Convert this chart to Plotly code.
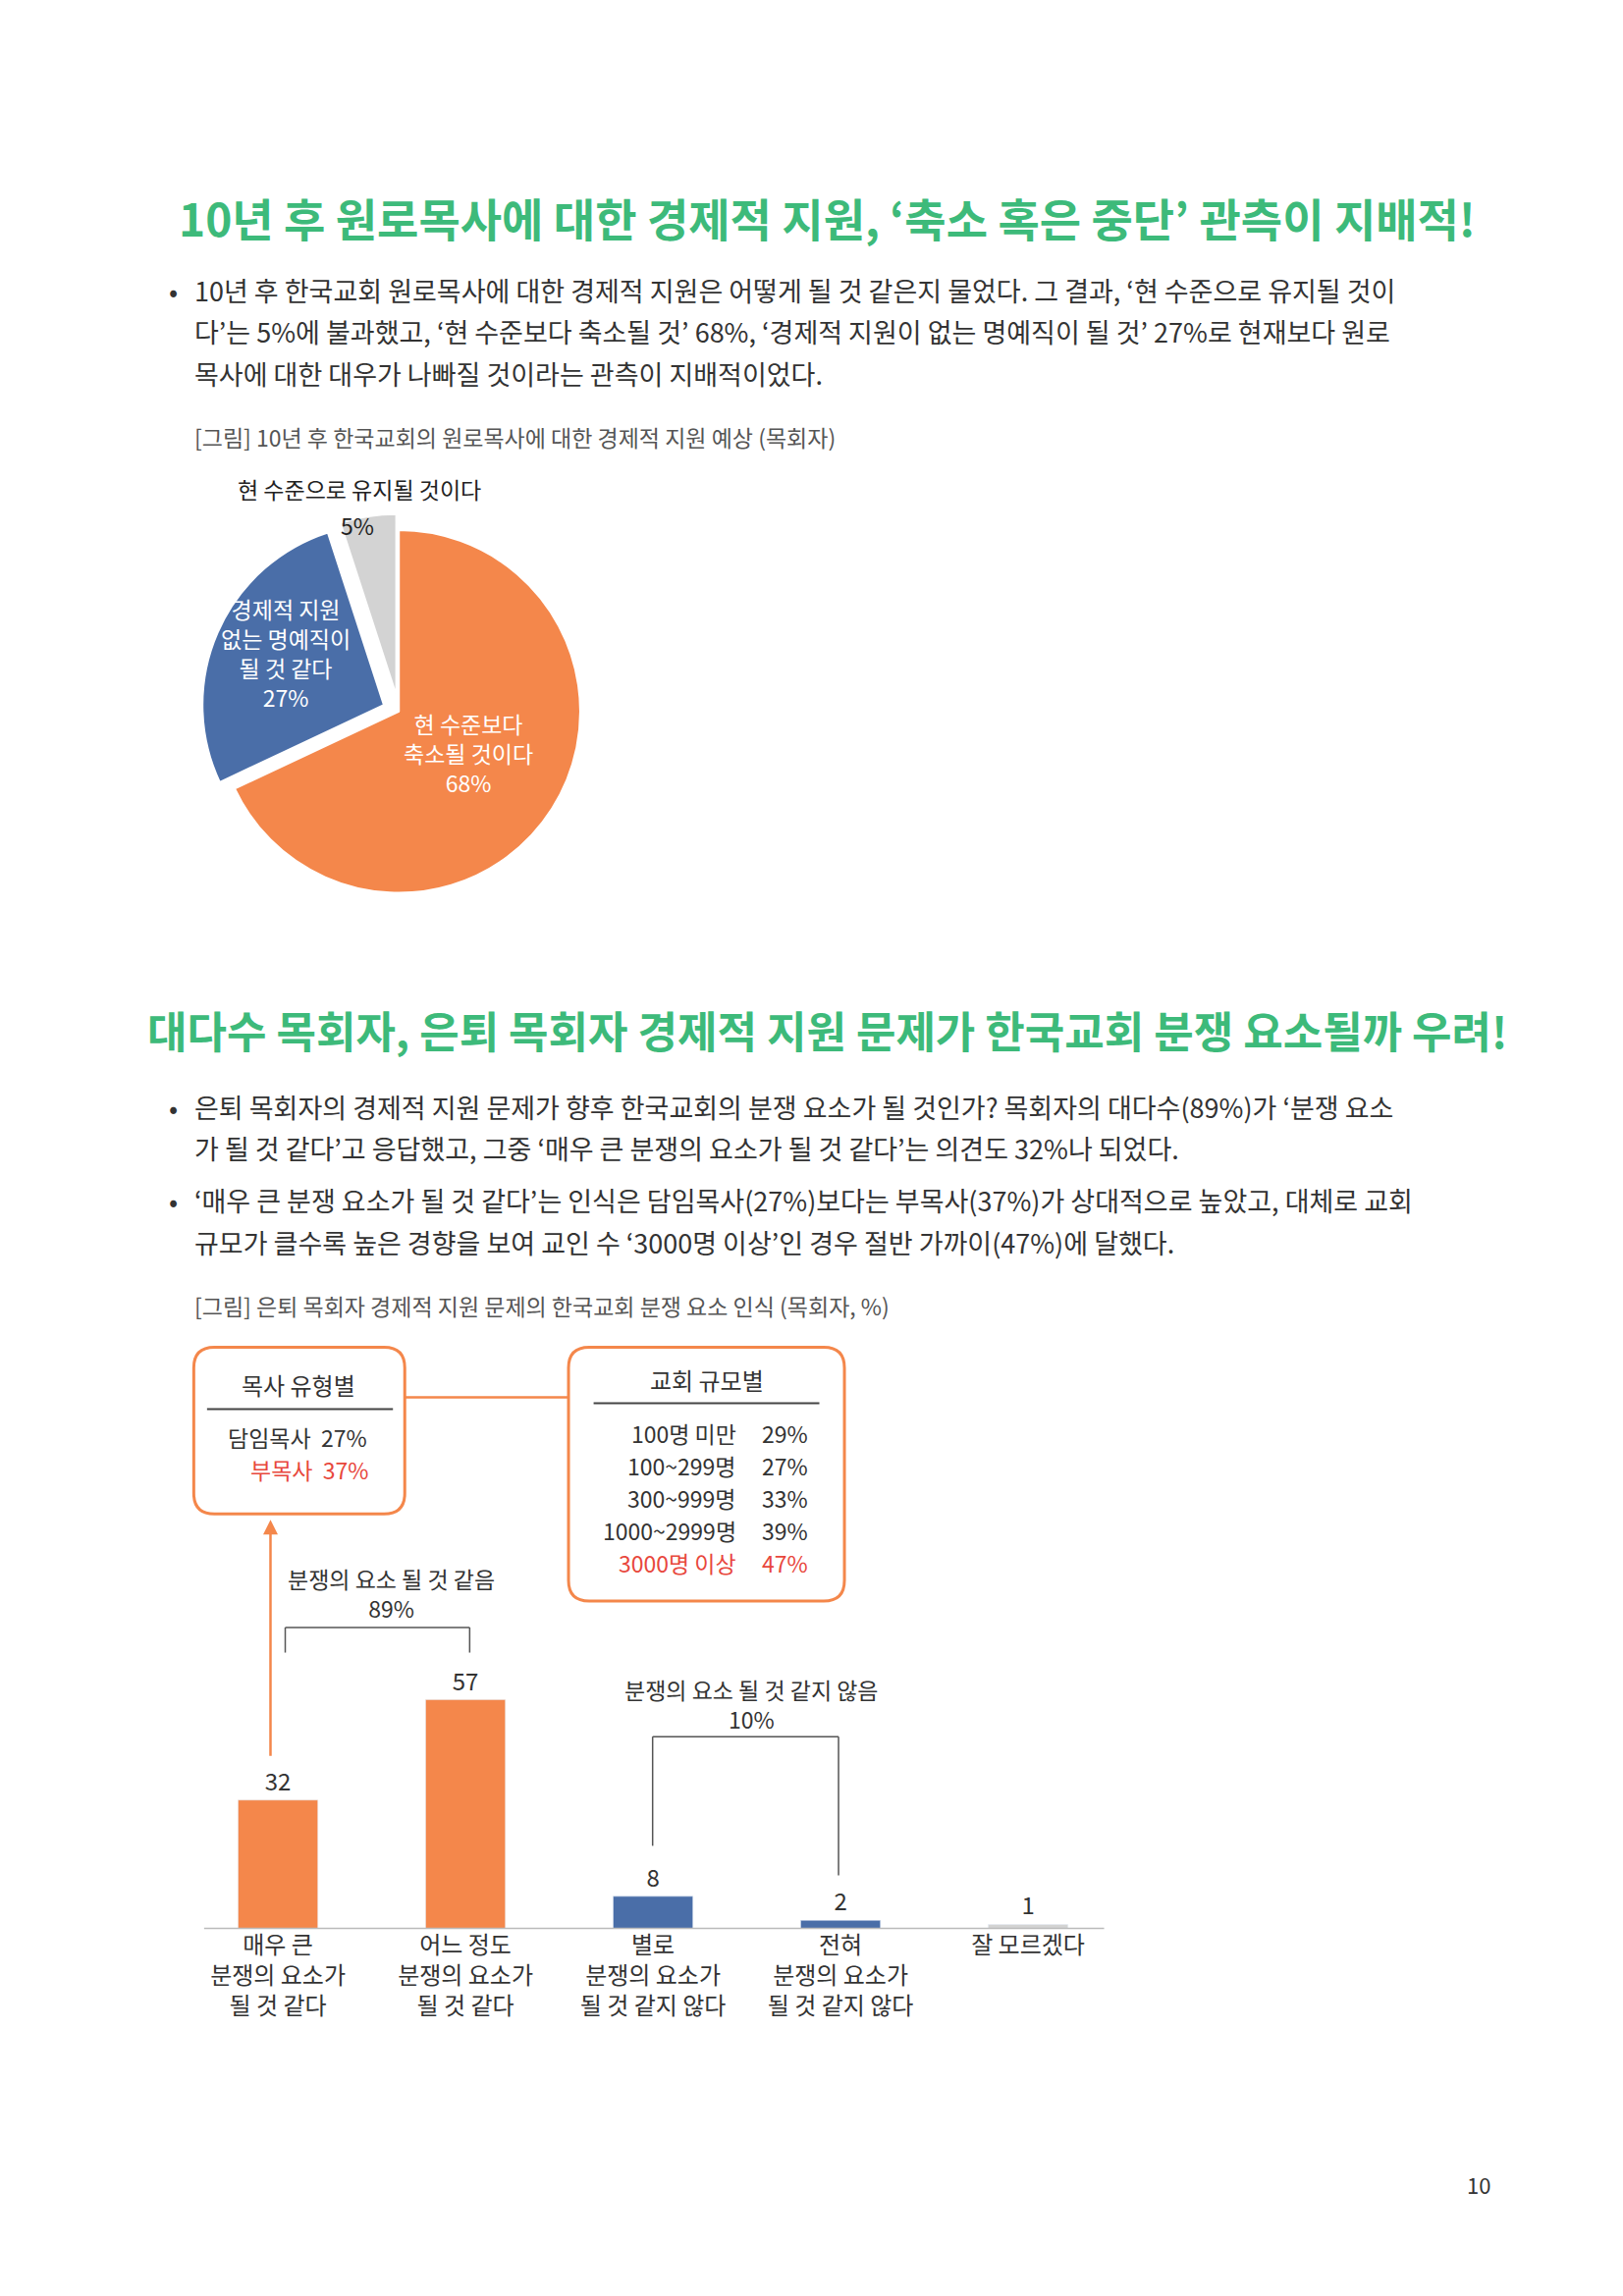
import plotly.graph_objects as go

W, H = 1653, 2339
FONT = "Noto Sans CJK KR"
GREEN = "#3dba7a"
ORANGE = "#f4874b"
BLUE = "#4a6ea8"
GRAY = "#d3d3d3"
RED = "#e8473c"

# pie data
pie_labels = ["현 수준보다 축소될 것이다", "경제적 지원 없는 명예직이 될 것 같다", "현 수준으로 유지될 것이다"]
pie_values = [68, 27, 5]
pie_colors = [ORANGE, BLUE, GRAY]

# bar data
bar_cats = ["매우 큰<br>분쟁의 요소가<br>될 것 같다", "어느 정도<br>분쟁의 요소가<br>될 것 같다",
            "별로<br>분쟁의 요소가<br>될 것 같지 않다", "전혀<br>분쟁의 요소가<br>될 것 같지 않다", "잘 모르겠다"]
bar_values = [32, 57, 8, 2, 1]
bar_colors = [ORANGE, ORANGE, BLUE, BLUE, GRAY]

pastor_types = ["담임목사", "부목사"]
pastor_pct = ["27%", "37%"]
church_sizes = ["100명 미만", "100~299명", "300~999명", "1000~2999명", "3000명 이상"]
church_pct = ["29%", "27%", "33%", "39%", "47%"]

S = W / 1100  # reference-to-page scale


def px(x):
    return x / 1100


def py(y):
    return 1 - y * S / H


fig = go.Figure()

fig.add_trace(go.Pie(
    labels=pie_labels, values=pie_values, sort=False, direction="clockwise",
    marker=dict(colors=pie_colors, line=dict(color="white", width=2)),
    pull=[0, 0.09, 0.09], textinfo="none", hoverinfo="label+percent", showlegend=False,
    domain=dict(x=[px(265 - 134), px(265 + 134)], y=[py(477 + 134), py(477 - 134)]),
))

fig.add_trace(go.Bar(
    x=bar_cats, y=bar_values, marker_color=bar_colors, text=bar_values,
    textposition="outside", textfont=dict(size=24, color="#333"), cliponaxis=False,
    showlegend=False, xaxis="x", yaxis="y",
))

fig.update_layout(
    width=W, height=H, margin=dict(l=0, r=0, t=0, b=0),
    paper_bgcolor="white", plot_bgcolor="white",
    font=dict(family=FONT, color="#333"),
    bargap=0.575,
    xaxis=dict(domain=[px(119.5), px(755)], showline=False, showgrid=False, ticks="",
               tickfont=dict(size=24, color="#333"), anchor="y"),
    yaxis=dict(domain=[py(1302), py(1302 - 70 * 2.72)], range=[0, 70], visible=False),
)

ann = []


def text(x, y, s, size=27, color="#333", xanchor="left", bold=False):
    if bold:
        s = "<b>" + s + "</b>"
    ann.append(dict(x=px(x), y=py(y), xref="paper", yref="paper", text=s, showarrow=False,
                    xanchor=xanchor, yanchor="middle", font=dict(size=size, color=color, family=FONT)))


text(555, 142, "10년 후 원로목사에 대한 경제적 지원, ‘축소 혹은 중단’ 관측이 지배적!", 46, GREEN, "center", True)
text(108, 191, "•", 27)
text(125, 191, "10년 후 한국교회 원로목사에 대한 경제적 지원은 어떻게 될 것 같은지 물었다. 그 결과, ‘현 수준으로 유지될 것이")
text(125, 219, "다’는 5%에 불과했고, ‘현 수준보다 축소될 것’ 68%, ‘경제적 지원이 없는 명예직이 될 것’ 27%로 현재보다 원로")
text(125, 248, "목사에 대한 대우가 나빠질 것이라는 관측이 지배적이었다.")
text(125, 291, "[그림] 10년 후 한국교회의 원로목사에 대한 경제적 지원 예상 (목회자)", 23, "#555")

text(238, 326, "현 수준으로 유지될 것이다", 23, "#222", "center")
text(237, 351, "5%", 23, "#222", "center")
text(188, 437, "경제적 지원<br>없는 명예직이<br>될 것 같다<br>27%", 23, "white", "center")
text(312, 505, "현 수준보다<br>축소될 것이다<br>68%", 23, "white", "center")

text(555, 693, "대다수 목회자, 은퇴 목회자 경제적 지원 문제가 한국교회 분쟁 요소될까 우려!", 44, GREEN, "center", True)
text(108, 745, "•", 27)
text(125, 745, "은퇴 목회자의 경제적 지원 문제가 향후 한국교회의 분쟁 요소가 될 것인가? 목회자의 대다수(89%)가 ‘분쟁 요소")
text(125, 773, "가 될 것 같다’고 응답했고, 그중 ‘매우 큰 분쟁의 요소가 될 것 같다’는 의견도 32%나 되었다.")
text(108, 808, "•", 27)
text(125, 808, "‘매우 큰 분쟁 요소가 될 것 같다’는 인식은 담임목사(27%)보다는 부목사(37%)가 상대적으로 높았고, 대체로 교회")
text(125, 837, "규모가 클수록 높은 경향을 보여 교인 수 ‘3000명 이상’인 경우 절반 가까이(47%)에 달했다.")
text(125, 880, "[그림] 은퇴 목회자 경제적 지원 문제의 한국교회 분쟁 요소 인식 (목회자, %)", 23, "#555")

text(260, 1075, "분쟁의 요소 될 것 같음<br>89%", 23, "#333", "center")
text(504, 1150, "분쟁의 요소 될 것 같지 않음<br>10%", 23, "#333", "center")

text(197, 933, "목사 유형별", 24, "#333", "center")
text(148, 969, pastor_types[0] + "  " + pastor_pct[0], 23, "#333")
text(163, 991, pastor_types[1] + "  " + pastor_pct[1], 23, RED)
text(474, 930, "교회 규모별", 24, "#333", "center")
for i, (s, p) in enumerate(zip(church_sizes, church_pct)):
    c = RED if i == len(church_sizes) - 1 else "#333"
    text(495, 966 + 22 * i, s, 23, c, "right")
    text(527, 966 + 22 * i, p, 23, c, "center")

text(997, 1475, "10", 22, "#333", "center")

ann.append(dict(x=px(178), y=py(1025), ax=0, ay=(1186 - 1025) * S, xref="paper", yref="paper",
                axref="pixel", ayref="pixel", showarrow=True, arrowhead=2, arrowsize=1.2,
                arrowwidth=2.5, arrowcolor=ORANGE, text=""))

fig.update_layout(annotations=ann)


def line(x0, y0, x1, y1, color="#555", width=1.5):
    fig.add_shape(type="line", xref="paper", yref="paper", x0=px(x0), y0=py(y0), x1=px(x1), y1=py(y1),
                  line=dict(color=color, width=width))


def rbox(x0, y0, x1, y1, r=14):
    pts = lambda x, y: f"{px(x):.5f},{py(y):.5f}"
    path = (f"M {pts(x0+r, y0)} L {pts(x1-r, y0)} Q {pts(x1, y0)} {pts(x1, y0+r)} "
            f"L {pts(x1, y1-r)} Q {pts(x1, y1)} {pts(x1-r, y1)} L {pts(x0+r, y1)} "
            f"Q {pts(x0, y1)} {pts(x0, y1-r)} L {pts(x0, y0+r)} Q {pts(x0, y0)} {pts(x0+r, y0)} Z")
    fig.add_shape(type="path", xref="paper", yref="paper", path=path,
                  line=dict(color=ORANGE, width=3), layer="below")


rbox(126, 908, 269, 1021)
rbox(380, 908, 567, 1080)
line(269, 942, 380, 942, ORANGE, 2.5)
line(135, 950, 261, 950, "#444", 2)
line(397, 946, 550, 946, "#444", 2)

# brackets
line(188, 1098, 313, 1098)
line(188, 1098, 188, 1115)
line(313, 1098, 313, 1115)
line(437, 1172, 563, 1172)
line(437, 1172, 437, 1246)
line(563, 1172, 563, 1266)

# baseline
line(133, 1302, 743, 1302, "#bbb", 1.5)

fig.write_html("out.html")
